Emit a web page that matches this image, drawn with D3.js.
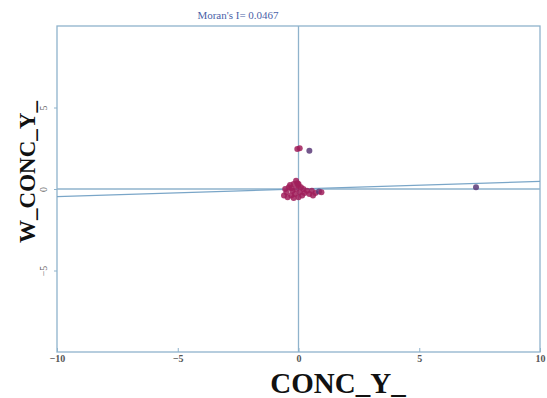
<!DOCTYPE html>
<html><head><meta charset="utf-8">
<script src="https://cdn.jsdelivr.net/npm/d3@7"></script>
<style>body{margin:0;background:#fff}</style>
</head><body>
<svg id="c" width="547" height="398"></svg>
<script>
const title = "Moran's I= 0.0467";
const moranI = 0.0467;
const xTicks = [-10, -5, 0, 5, 10];
const yTicks = [-5, 0, 5];
const xLabel = "CONC_Y_";
const yLabel = "W_CONC_Y_";
const pointsX = [-0.5,-0.4,-0.3,-0.2,-0.1,0,-0.6,-0.45,-0.25,-0.15,0.05,0.1,0.15,-0.35,0,-0.1,0.2,-0.55,0.25,-0.05,-0.3,-0.2,0.0,0.35,0.45,0.55,0.7,0.85,0.95,0.6,-0.05,0.05,0.45,7.35];
const pointsY = [-0.2,0.1,-0.4,0.3,0.5,0.2,-0.4,-0.5,-0.1,-0.3,-0.2,0.1,-0.4,0.25,-0.5,0,0,0,-0.25,0.35,0.05,-0.55,0.3,-0.1,-0.3,-0.1,-0.25,-0.15,-0.2,-0.4,2.45,2.5,2.35,0.1];
const pointGroup = [0,0,0,0,0,0,0,0,0,0,0,0,0,0,0,0,0,0,0,0,0,0,0,0,0,0,0,1,0,0,0,0,1,1];

const svg = d3.select("#c");
const L=57,R=540,T=26,B=352;
const x = d3.scaleLinear().domain([-10,10]).range([L,R]);
const y = d3.scaleLinear().domain([-10,10]).range([B,T]);
const axisCol = "#8fb3cc";

svg.append("rect").attr("x",L).attr("y",T).attr("width",R-L).attr("height",B-T)
  .attr("fill","none").attr("stroke",axisCol).attr("stroke-width",1.3);

// zero lines
svg.append("line").attr("x1",x(0)).attr("x2",x(0)).attr("y1",T).attr("y2",B).attr("stroke",axisCol).attr("stroke-width",1.3);
svg.append("line").attr("x1",L).attr("x2",R).attr("y1",y(0)).attr("y2",y(0)).attr("stroke",axisCol).attr("stroke-width",1.3);
// regression line
svg.append("line").attr("x1",x(-10)).attr("x2",x(10)).attr("y1",y(-10*moranI)).attr("y2",y(10*moranI))
  .attr("stroke","#7aa6c8").attr("stroke-width",1.3);

// axes
const gx = svg.append("g").attr("transform",`translate(0,${B})`)
  .call(d3.axisBottom(x).tickValues(xTicks).tickSize(4).tickSizeOuter(0));
gx.select(".domain").remove();
gx.selectAll("line").attr("stroke",axisCol).attr("transform","translate(0,-4)");
gx.selectAll("text").attr("font-family","Liberation Serif").attr("font-size",10).attr("font-weight","bold").attr("fill","#555").attr("dy","0.3em");

const gy = svg.append("g").attr("transform",`translate(${L},0)`)
  .call(d3.axisLeft(y).tickValues(yTicks).tickSize(3).tickSizeOuter(0));
gy.select(".domain").remove();
gy.selectAll("line").attr("stroke",axisCol);
gy.selectAll("text").attr("font-family","Liberation Serif").attr("font-size",10).attr("fill","#666")
  .attr("text-anchor","middle").attr("x",0).attr("dy",0)
  .attr("transform",d=>`translate(-10,${0}) rotate(-90)`);

// points
const pts = pointsX.map((v,i)=>({x:v,y:pointsY[i],g:pointGroup[i]}));
svg.append("g").selectAll("circle").data(pts).join("circle")
  .attr("cx",d=>x(d.x)).attr("cy",d=>y(d.y)).attr("r",3)
  .attr("fill",d=>d.g?"#5a3a78":"#a01e5a").attr("fill-opacity",0.85);

// title
svg.append("text").attr("x",238).attr("y",19).attr("text-anchor","middle")
  .attr("font-family","Liberation Serif").attr("font-size",11).attr("fill","#4a5fa8").text(title);
// x label
svg.append("text").attr("x",338).attr("y",393).attr("text-anchor","middle")
  .attr("font-family","Liberation Serif").attr("font-weight","bold").attr("font-size",29).attr("fill","#111").text(xLabel);
// y label
svg.append("text").attr("transform","translate(35,172) rotate(-90)").attr("text-anchor","middle")
  .attr("font-family","Liberation Serif").attr("font-weight","bold").attr("font-size",23).attr("fill","#111").text(yLabel);
</script>
</body></html>
